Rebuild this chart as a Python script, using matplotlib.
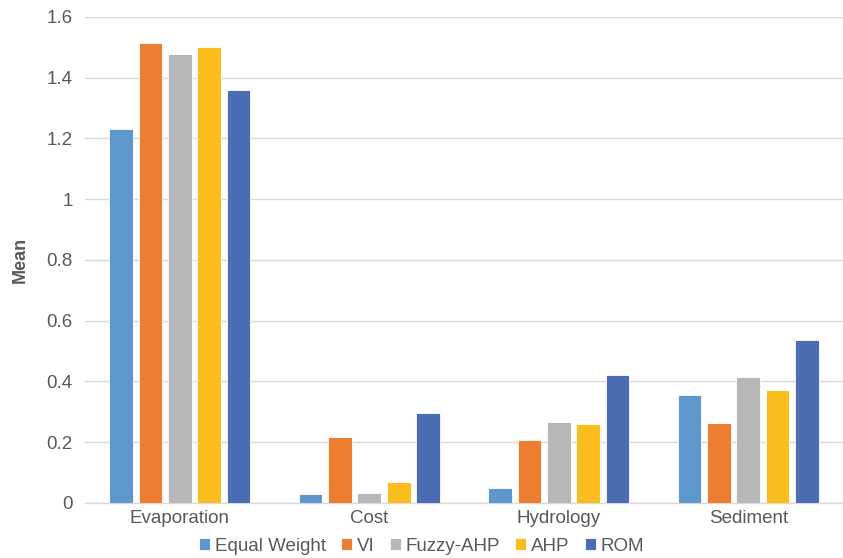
import matplotlib
matplotlib.use("Agg")
import matplotlib.pyplot as plt
import numpy as np

categories = ["Evaporation", "Cost", "Hydrology", "Sediment"]
series_names = ["Equal Weight", "VI", "Fuzzy-AHP", "AHP", "ROM"]
equal_weight = [1.23, 0.03, 0.048, 0.355]
vi = [1.515, 0.216, 0.206, 0.263]
fuzzy_ahp = [1.478, 0.033, 0.266, 0.415]
ahp = [1.50, 0.069, 0.261, 0.371]
rom = [1.36, 0.296, 0.421, 0.535]
series_values = [equal_weight, vi, fuzzy_ahp, ahp, rom]
colors = ["#5F98CE", "#ED7D31", "#B7B7B7", "#F9BE1E", "#4A6DB4"]
yticks = [0, 0.2, 0.4, 0.6, 0.8, 1, 1.2, 1.4, 1.6]
ytick_labels = ["0", "0.2", "0.4", "0.6", "0.8", "1", "1.2", "1.4", "1.6"]

plt.rcParams['font.family'] = ['Liberation Sans', 'DejaVu Sans']
fig = plt.figure(figsize=(8.43, 5.58), dpi=100)
ax = fig.add_axes([0.101, 0.0986, 0.899, 0.871])

x = np.arange(len(categories))
step = 0.155
width = 0.125
for i, (name, vals, c) in enumerate(zip(series_names, series_values, colors)):
    ax.bar(x + (i - 2) * step, vals, width=width, color=c, edgecolor="white",
           linewidth=0.6, label=name, zorder=3)

ax.set_xlim(-0.5, 3.5)
ax.set_ylim(0, 1.6)
ax.set_yticks(yticks)
ax.set_yticklabels(ytick_labels)
ax.set_xticks(x)
ax.set_xticklabels(categories)
ax.grid(axis="y", color="#D9D9D9", linewidth=1.0, zorder=0)
for s in ["top", "right", "left"]:
    ax.spines[s].set_visible(False)
ax.spines["bottom"].set_color("#D9D9D9")
ax.spines["bottom"].set_linewidth(1.0)
ax.tick_params(axis="both", length=0, colors="#595959", labelsize=13.5)
ax.tick_params(axis="y", pad=9)
ax.tick_params(axis="x", pad=5)
ax.set_ylabel("Mean", fontsize=13, fontweight="bold", color="#595959", labelpad=13)

leg = fig.legend(loc="center", bbox_to_anchor=(0.5, 0.021), ncol=5, frameon=False,
                 fontsize=13.5, handlelength=0.6, handleheight=0.6,
                 handletextpad=0.25, columnspacing=0.8, labelcolor="#595959")

fig.savefig("out.png", dpi=100)
